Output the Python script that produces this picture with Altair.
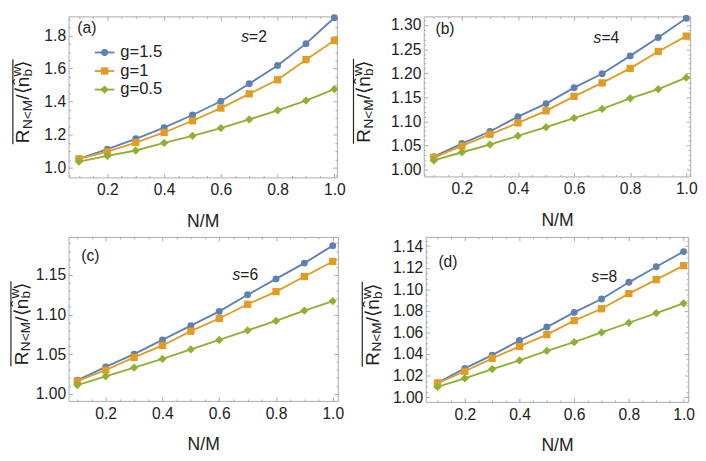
import altair as alt
import pandas as pd

# ---------------- data ----------------
N_M = [0.1, 0.2, 0.3, 0.4, 0.5, 0.6, 0.7, 0.8, 0.9, 1.0]
series = ["g=1.5", "g=1", "g=0.5"]
colors = ["#5E81B5", "#E19C24", "#8FB032"]
shapes = ["circle", "square", "diamond"]
sizes = [50, 56, 72]

a_g15 = [1.053, 1.112, 1.175, 1.242, 1.319, 1.402, 1.508, 1.619, 1.751, 1.908]
a_g1 = [1.053, 1.097, 1.152, 1.213, 1.284, 1.361, 1.447, 1.532, 1.654, 1.770]
a_g05 = [1.037, 1.071, 1.104, 1.150, 1.193, 1.240, 1.292, 1.347, 1.406, 1.475]

b_g15 = [1.027, 1.054, 1.079, 1.110, 1.137, 1.170, 1.199, 1.236, 1.274, 1.314]
b_g1 = [1.025, 1.049, 1.073, 1.097, 1.122, 1.152, 1.180, 1.210, 1.245, 1.277]
b_g05 = [1.019, 1.036, 1.052, 1.070, 1.088, 1.107, 1.126, 1.148, 1.167, 1.191]

c_g15 = [1.017, 1.034, 1.050, 1.068, 1.086, 1.104, 1.125, 1.145, 1.165, 1.187]
c_g1 = [1.016, 1.030, 1.046, 1.061, 1.079, 1.095, 1.113, 1.129, 1.148, 1.167]
c_g05 = [1.011, 1.022, 1.033, 1.044, 1.056, 1.068, 1.080, 1.092, 1.105, 1.117]

d_g15 = [1.0133, 1.0267, 1.039, 1.0525, 1.065, 1.0786, 1.091, 1.1065, 1.121, 1.135]
d_g1 = [1.013, 1.024, 1.036, 1.047, 1.058, 1.071, 1.082, 1.096, 1.109, 1.122]
d_g05 = [1.0095, 1.0175, 1.026, 1.034, 1.043, 1.051, 1.060, 1.069, 1.078, 1.087]

x_major = [0.2, 0.4, 0.6, 0.8, 1.0]
x_minor = [0.1, 0.15, 0.25, 0.3, 0.35, 0.45, 0.5, 0.55, 0.65, 0.7, 0.75, 0.85, 0.9, 0.95]

a_yticks = [1.0, 1.2, 1.4, 1.6, 1.8]
b_yticks = [1.00, 1.05, 1.10, 1.15, 1.20, 1.25, 1.30]
c_yticks = [1.00, 1.05, 1.10, 1.15]
d_yticks = [1.00, 1.02, 1.04, 1.06, 1.08, 1.10, 1.12, 1.14]

FONT = "Liberation Sans"
TXT = "#222222"
FRAME = "#aaaaaa"
one = pd.DataFrame({"k": [0]})


def minor_ticks(major_step, minor_step, lo, hi):
    n = int(round((hi - lo) / minor_step)) + 2
    start = round(lo / minor_step) * minor_step
    out = []
    for i in range(-1, n):
        v = round(start + i * minor_step, 6)
        if lo <= v <= hi:
            r = v / major_step
            if abs(r - round(r)) > 1e-6:
                out.append(v)
    return out


def txt(text, x, y, size, angle=0, italic=False, align="left", baseline="middle"):
    props = dict(text=text, font=FONT, fontSize=size, align=align,
                 baseline=baseline, color=TXT)
    if angle:
        props["angle"] = angle
    if italic:
        props["fontStyle"] = "italic"
    return alt.Chart(one).mark_text(**props).encode(x=alt.value(x), y=alt.value(y))


PIECES = [("R", 0, 0, 19.5), ("N<M", 14.5, 2.5, 14), ("/", 44.5, 0, 19.5),
          ("⟨", 50, 0, 19.5), ("n̂", 57.5, 0, 19.5), ("b", 68.5, 3, 14),
          ("w", 68.5, -8.5, 14), ("⟩", 77, 0, 19.5)]
TLEN = 85


def ytitle(bx, H):
    y0 = H / 2 + 5 + TLEN / 2
    layers = [txt(t, bx + p, y0 - s, fs, angle=270, baseline="alphabetic")
              for t, s, p, fs in PIECES]
    layers.append(
        alt.Chart(one).mark_rule(color=TXT, strokeWidth=1.2).encode(
            x=alt.value(bx - 17), y=alt.value(y0 + 1), y2=alt.value(y0 - TLEN - 1)))
    return layers


def panel(ys_list, xdom, ydom, yticks, yfmt, ymaj_step, ymin_step, W, H, bx,
          label, label_pos, snum, s_pos, legend=False):
    xs = alt.Scale(domain=xdom, nice=False, zero=False)
    ysc = alt.Scale(domain=ydom, nice=False, zero=False)
    y_minor = minor_ticks(ymaj_step, ymin_step, ydom[0], ydom[1])
    df_all = pd.DataFrame({"x": N_M * 3, "y": ys_list[0] + ys_list[1] + ys_list[2]})
    common = dict(domain=False, grid=False, tickColor=FRAME, tickWidth=1,
                  labelFlush=False, labelOverlap=False)

    def ax_layer(xaxis, yaxis):
        return alt.Chart(df_all).mark_point(opacity=0).encode(
            x=alt.X("x:Q", scale=xs, axis=xaxis),
            y=alt.Y("y:Q", scale=ysc, axis=yaxis))

    layers = [
        ax_layer(alt.Axis(orient="bottom", values=x_major, format=".1f", title="N/M",
                          offset=-4, tickSize=4, labelPadding=5, titlePadding=15, **common),
                 alt.Axis(orient="left", values=yticks, format=yfmt, title=None,
                          offset=-4, tickSize=4, labelPadding=3, **common)),
        ax_layer(alt.Axis(orient="top", values=x_major, labels=False, title=None,
                          offset=-4, tickSize=4, **common),
                 alt.Axis(orient="right", values=yticks, labels=False, title=None,
                          offset=-4, tickSize=4, **common)),
        ax_layer(alt.Axis(orient="bottom", values=x_minor, labels=False, title=None,
                          offset=-2, tickSize=2, **common),
                 alt.Axis(orient="left", values=y_minor, labels=False, title=None,
                          offset=-2, tickSize=2, **common)),
        ax_layer(alt.Axis(orient="top", values=x_minor, labels=False, title=None,
                          offset=-2, tickSize=2, **common),
                 alt.Axis(orient="right", values=y_minor, labels=False, title=None,
                          offset=-2, tickSize=2, **common)),
    ]
    for i in range(3):
        dfi = pd.DataFrame({"x": N_M, "y": ys_list[i]})
        layers.append(alt.Chart(dfi).mark_line(color=colors[i], strokeWidth=1.9).encode(
            x=alt.X("x:Q", scale=xs, axis=None), y=alt.Y("y:Q", scale=ysc, axis=None)))
    for i in range(3):
        dfi = pd.DataFrame({"x": N_M, "y": ys_list[i]})
        layers.append(alt.Chart(dfi).mark_point(
            shape=shapes[i], filled=True, opacity=1, color=colors[i], size=sizes[i]).encode(
            x=alt.X("x:Q", scale=xs, axis=None), y=alt.Y("y:Q", scale=ysc, axis=None)))

    layers.append(txt(label, label_pos[0], label_pos[1], 16))
    layers.append(txt("s", s_pos[0], s_pos[1], 16, italic=True))
    layers.append(txt("=" + snum, s_pos[0] + 8, s_pos[1], 16))
    layers += ytitle(bx, H)

    if legend:
        for i, (s, py) in enumerate(zip(series, [37, 56, 75])):
            layers.append(alt.Chart(one).mark_rule(color=colors[i], strokeWidth=1.9).encode(
                x=alt.value(27), x2=alt.value(47), y=alt.value(py)))
            layers.append(alt.Chart(one).mark_point(
                shape=shapes[i], filled=True, opacity=1, color=colors[i], size=sizes[i]).encode(
                x=alt.value(37), y=alt.value(py)))
            layers.append(txt(s, 53, py, 17))

    return alt.layer(*layers).properties(width=W, height=H).resolve_axis(
        x="independent", y="independent")


pa = panel([a_g15, a_g1, a_g05], [0.063, 1.009], [0.941, 1.916], a_yticks, ".1f",
           0.2, 0.05, 275, 165, -40, "(a)", (9, 12), "2", (177, 21), legend=True)
pb = panel([b_g15, b_g1, b_g05], [0.064, 1.014], [0.9858, 1.318], b_yticks, ".2f",
           0.05, 0.01, 273, 164, -55, "(b)", (12, 13.5), "4", (174, 22.5))
pc = panel([c_g15, c_g1, c_g05], [0.069, 1.018], [0.991, 1.198], c_yticks, ".2f",
           0.05, 0.01, 276, 168, -42, "(c)", (13, 19.5), "6", (168, 39))
pd_ = panel([d_g15, d_g1, d_g05], [0.057, 1.017], [0.9956, 1.1486], d_yticks, ".2f",
            0.02, 0.005, 269, 169, -48, "(d)", (13, 26), "8", (170, 41))

row1 = alt.hconcat(pa, pb, spacing=4)
row2 = alt.hconcat(pc, pd_, spacing=15)
chart = alt.vconcat(row1, row2, spacing=5, padding=0).configure_view(
    stroke=FRAME, strokeWidth=1
).configure_axis(
    labelFont=FONT, labelFontSize=16, labelColor=TXT,
    titleFont=FONT, titleFontSize=18, titleFontWeight="normal", titleColor=TXT
)

chart.save("out.html", embed_options={"renderer": "svg", "actions": False})
